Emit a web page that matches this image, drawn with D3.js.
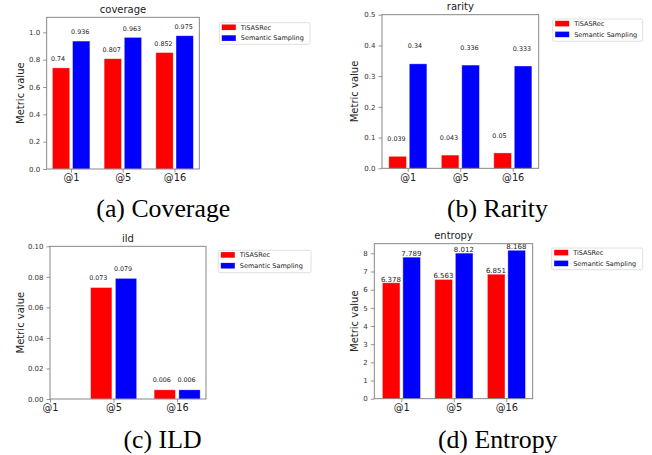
<!DOCTYPE html>
<html><head><meta charset="utf-8">
<script src="https://cdn.jsdelivr.net/npm/d3@7"></script>
<style>body{margin:0;background:#fff}svg{display:block}</style>
</head><body>
<svg id="c" width="652" height="455"></svg>
<script>
const categories = ["@1", "@5", "@16"];
const seriesNames = ["TiSASRec", "Semantic Sampling"];
const seriesColors = ["#ff0000", "#0000ff"];

const coverageTiSASRec = [0.74, 0.807, 0.852];
const coverageSemantic = [0.936, 0.963, 0.975];
const rarityTiSASRec = [0.039, 0.043, 0.05];
const raritySemantic = [0.34, 0.336, 0.333];
const ildTiSASRec = [0, 0.073, 0.006];
const ildSemantic = [0, 0.079, 0.006];
const entropyTiSASRec = [6.378, 6.563, 6.851];
const entropySemantic = [7.789, 8.012, 8.168];

const coverageTicks = [0, 0.2, 0.4, 0.6, 0.8, 1.0];
const rarityTicks = [0, 0.1, 0.2, 0.3, 0.4, 0.5];
const ildTicks = [0, 0.02, 0.04, 0.06, 0.08, 0.10];
const entropyTicks = [0, 1, 2, 3, 4, 5, 6, 7, 8];

const titles = ["coverage", "rarity", "ild", "entropy"];
const captions = ["(a) Coverage", "(b) Rarity", "(c) ILD", "(d) Entropy"];

const panels = [
  {title: titles[0], caption: captions[0], s: [coverageTiSASRec, coverageSemantic], ticks: coverageTicks, fmt: ".1f",
   box: [46.7, 199.3, 17.3, 169], yMax: 1.11, xd: [-0.47, 2.48], off: 0.05, lfs: 6.4,
   titleY: 13.3, ylabX: 20.7, legend: [219.3, 22.7, 90.7, 21.6], cap: [163.3, 217]},
  {title: titles[1], caption: captions[1], s: [rarityTiSASRec, raritySemantic], ticks: rarityTicks, fmt: ".1f",
   box: [382, 538.7, 14.7, 168.3], yMax: 0.5, xd: [-0.49, 2.495], off: 0.05, lfs: 6.4,
   titleY: 10, ylabX: 355.3, legend: [552.7, 19, 90, 22.3], cap: [497.4, 216.7]},
  {title: titles[2], caption: captions[2], s: [ildTiSASRec, ildSemantic], ticks: ildTicks, fmt: ".2f",
   box: [50, 206, 246.3, 399], yMax: 0.1, xd: [0, 2.457], off: 0.005, lfs: 6.4,
   titleY: 241.7, ylabX: 20.7, legend: [218.3, 250.3, 92.7, 22.4], cap: [162.5, 447.7]},
  {title: titles[3], caption: captions[3], s: [entropyTiSASRec, entropySemantic], ticks: entropyTicks, fmt: "d",
   box: [374.3, 532.7, 243.7, 398.7], yMax: 8.53, xd: [-0.514, 2.503], off: 0.07, lfs: 7,
   titleY: 239.3, ylabX: 355.3, legend: [551.7, 248, 91, 21.7], cap: [497.7, 447.7]}
];

const barOffsets = [[-0.36, -0.025], [0.03, 0.365]];
const svg = d3.select("#c");
const sans = "DejaVu Sans, sans-serif";
const spine = "#7a7a7a";

panels.forEach(p => {
  const [x0, x1, y0, y1] = p.box;
  const x = d3.scaleLinear().domain(p.xd).range([x0, x1]);
  const y = d3.scaleLinear().domain([0, p.yMax]).range([y1, y0]);
  const g = svg.append("g");

  // bars
  p.s.forEach((vals, si) => {
    g.selectAll(null).data(vals.map((v, i) => ({v, i}))).enter().append("rect")
      .attr("x", d => x(d.i + barOffsets[si][0]))
      .attr("width", d => x(d.i + barOffsets[si][1]) - x(d.i + barOffsets[si][0]))
      .attr("y", d => y(d.v))
      .attr("height", d => y(0) - y(d.v))
      .attr("fill", seriesColors[si])
      .attr("stroke", "#ffffff").attr("stroke-opacity", 0.5).attr("stroke-width", 0.7);
    g.selectAll(null).data(vals.map((v, i) => ({v, i})).filter(d => d.v !== 0)).enter().append("text")
      .attr("x", d => x(d.i + barOffsets[si][0]) - 1.5)
      .attr("y", d => y(d.v + p.off))
      .attr("font-family", sans).attr("font-size", p.lfs).attr("fill", "#222")
      .text(d => String(d.v));
  });

  // axes
  const yAxis = d3.axisLeft(y).tickValues(p.ticks).tickFormat(d3.format(p.fmt)).tickSize(3.5).tickPadding(3);
  const ya = g.append("g").attr("transform", `translate(${x0},0)`).call(yAxis);
  ya.select(".domain").remove();
  ya.selectAll("line").attr("stroke", spine).attr("stroke-width", 0.8);
  ya.selectAll("text").attr("font-family", sans).attr("font-size", 7).attr("fill", "#333");

  const xAxis = d3.axisBottom(x).tickValues(d3.range(categories.length)).tickFormat(i => categories[i]).tickSize(3.5).tickPadding(2);
  const xa = g.append("g").attr("transform", `translate(0,${y1})`).call(xAxis);
  xa.select(".domain").remove();
  xa.selectAll("line").attr("stroke", spine).attr("stroke-width", 0.8);
  xa.selectAll("text").attr("font-family", sans).attr("font-size", 9.8).attr("fill", "#222");

  // frame
  g.append("rect").attr("x", x0).attr("y", y0).attr("width", x1 - x0).attr("height", y1 - y0)
    .attr("fill", "none").attr("stroke", spine).attr("stroke-width", 0.9);

  // title
  g.append("text").attr("x", (x0 + x1) / 2).attr("y", p.titleY).attr("text-anchor", "middle")
    .attr("font-family", sans).attr("font-size", 10).attr("fill", "#222").text(p.title);

  // y label
  g.append("text").attr("transform", `translate(${p.ylabX},${(y0 + y1) / 2}) rotate(-90)`)
    .attr("text-anchor", "middle").attr("dominant-baseline", "middle")
    .attr("font-family", sans).attr("font-size", 10).attr("fill", "#222").text("Metric value");

  // legend
  const [lx, ly, lw, lh] = p.legend;
  const lg = g.append("g");
  lg.append("rect").attr("x", lx).attr("y", ly).attr("width", lw).attr("height", lh).attr("rx", 1.5)
    .attr("fill", "#fff").attr("stroke", "#d8d8d8").attr("stroke-width", 0.8);
  seriesNames.forEach((n, i) => {
    lg.append("rect").attr("x", lx + 2.5).attr("y", ly + 1.8 + i * 10.8).attr("width", 14).attr("height", 5.6)
      .attr("fill", seriesColors[i]);
    lg.append("text").attr("x", lx + 21.5).attr("y", ly + 6.8 + i * 10.8)
      .attr("font-family", sans).attr("font-size", 6.5).attr("fill", "#222").text(n);
  });

  // caption
  g.append("text").attr("x", p.cap[0]).attr("y", p.cap[1]).attr("text-anchor", "middle")
    .attr("font-family", "Liberation Serif, Times New Roman, serif").attr("font-size", 25.8).attr("fill", "#000")
    .text(p.caption);
});
</script>
</body></html>
